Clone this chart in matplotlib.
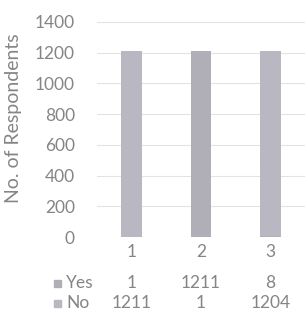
import matplotlib
matplotlib.use("Agg")
import matplotlib.pyplot as plt
import matplotlib.transforms as mtransforms
from matplotlib.patches import Rectangle

categories = ["1", "2", "3"]
yes_vals = [1, 1211, 8]
no_vals = [1211, 1, 1204]
series_names = ["Yes", "No"]
yticks = [0, 200, 400, 600, 800, 1000, 1200, 1400]

yes_color = "#b0afb7"
no_color = "#b9b8c2"
text_color = "#858585"
font = ["Lato", "DejaVu Sans"]
fs = 12.5

W, H = 305, 318
fig = plt.figure(figsize=(W / 100, H / 100), dpi=100)
ax = fig.add_axes([97 / W, 1 - 237 / H, 208 / W, (237 - 22) / H])

x = list(range(len(categories)))
ax.bar(x, yes_vals, width=0.3, color=yes_color, zorder=2)
ax.bar(x, no_vals, width=0.3, bottom=yes_vals, color=no_color, zorder=2)

ax.set_xlim(-0.5, len(categories) - 0.5)
ax.set_ylim(0, 1400)
ax.set_yticks(yticks)
ax.set_yticklabels([str(t) for t in yticks], fontsize=fs, color=text_color,
                   family=font)
ax.set_xticks(x)
ax.set_xticklabels(categories, fontsize=fs, color=text_color, family=font)
ax.tick_params(axis="y", length=0, pad=16)
ax.tick_params(axis="x", length=0, pad=5)
ax.grid(axis="y", color="#e3e3e3", linewidth=0.8, zorder=0)
for s in ax.spines.values():
    s.set_visible(False)

ax.set_ylabel("No. of Respondents", fontsize=14, color=text_color, family=font)
ax.yaxis.set_label_coords(22 / W, 1 - 118 / H, transform=fig.transFigure)

trans = mtransforms.blended_transform_factory(ax.transData, fig.transFigure)
rows = [(series_names[0], yes_vals, yes_color, 1 - 283 / H),
        (series_names[1], no_vals, no_color, 1 - 303 / H)]
for name, vals, col, yf in rows:
    fig.patches.append(Rectangle((54 / W, yf - 3.5 / H), 7 / W, 7 / H,
                                 transform=fig.transFigure, color=col))
    fig.text(66 / W, yf, name, fontsize=fs, color=text_color, family=font,
             va="center", ha="left")
    for xi, v in zip(x, vals):
        ax.text(xi, yf, str(v), transform=trans, fontsize=fs, color=text_color,
                family=font, va="center", ha="center")

fig.savefig("out.png", dpi=100)
